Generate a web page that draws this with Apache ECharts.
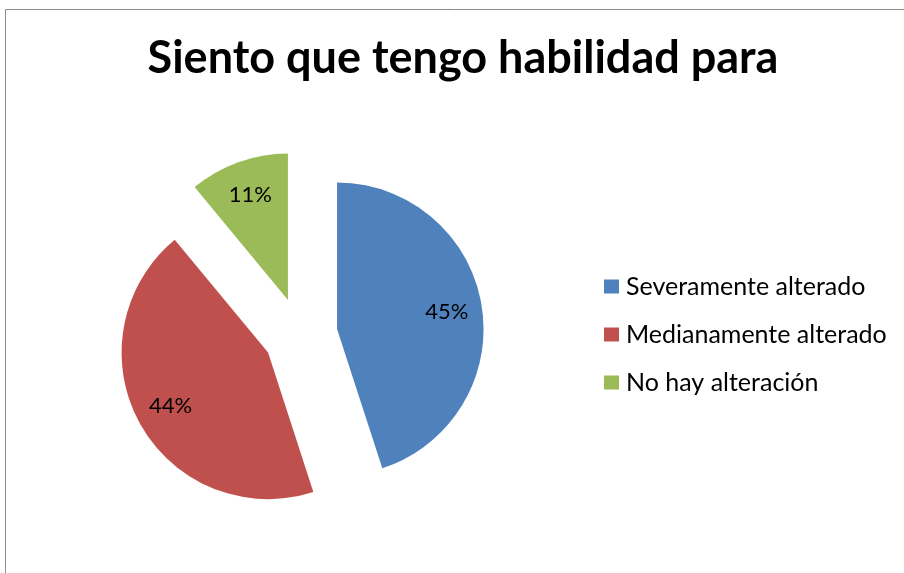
<!DOCTYPE html>
<html>
<head>
<meta charset="utf-8">
<script src="https://cdn.jsdelivr.net/npm/echarts@6/dist/echarts.min.js"></script>
<style>
html,body{margin:0;padding:0;background:#fff;}
#chart{width:904px;height:573px;}
</style>
</head>
<body>
<div id="chart"></div>
<script>
const titleText = 'Siento que tengo habilidad para';
const categories = ['Severamente alterado', 'Medianamente alterado', 'No hay alteración'];
const values = [45, 44, 11];
const colors = ['#4F81BD', '#C0504D', '#9BBB59'];

const FONT = 'Lato, "Open Sans", sans-serif';
const data = categories.map((name, i) => ({ name: name, value: values[i], selected: true }));

const chart = echarts.init(document.getElementById('chart'), null, { renderer: 'canvas' });
chart.setOption({
  animation: false,
  backgroundColor: '#ffffff',
  color: colors,
  title: {
    text: titleText,
    left: 463,
    textAlign: 'center',
    top: 36,
    padding: 0,
    textStyle: { fontFamily: FONT, fontWeight: 'bold', fontSize: 45, color: '#000' }
  },
  legend: {
    orient: 'vertical',
    left: 604,
    top: 274,
    padding: 0,
    itemWidth: 15,
    itemHeight: 14,
    itemGap: 23,
    icon: 'rect',
    selectedMode: false,
    data: categories,
    textStyle: { fontFamily: FONT, fontSize: 25, color: '#000', padding: [0, 0, 0, 2] }
  },
  graphic: [{
    type: 'rect',
    silent: true,
    shape: { x: 5.5, y: 9.5, width: 1000, height: 1000 },
    style: { fill: 'none', stroke: '#8c8c8c', lineWidth: 1 }
  }],
  series: [
    {
      type: 'pie',
      center: [300.5, 334.8],
      radius: [0, 146.5],
      startAngle: 90,
      clockwise: true,
      selectedMode: 'multiple',
      selectedOffset: 37,
      silent: true,
      label: { show: false },
      labelLine: { show: false },
      emphasis: { disabled: true },
      data: data
    },
    {
      type: 'pie',
      center: [300.5, 334.8],
      radius: [70, 146.5],
      startAngle: 90,
      clockwise: true,
      selectedMode: 'multiple',
      selectedOffset: 37,
      silent: true,
      itemStyle: { color: 'rgba(0,0,0,0)' },
      label: {
        show: true,
        position: 'inside',
        formatter: p => p.value + '%',
        fontFamily: FONT,
        fontSize: 22,
        color: '#000'
      },
      labelLine: { show: false },
      emphasis: { disabled: true },
      data: data
    }
  ]
});
</script>
</body>
</html>
